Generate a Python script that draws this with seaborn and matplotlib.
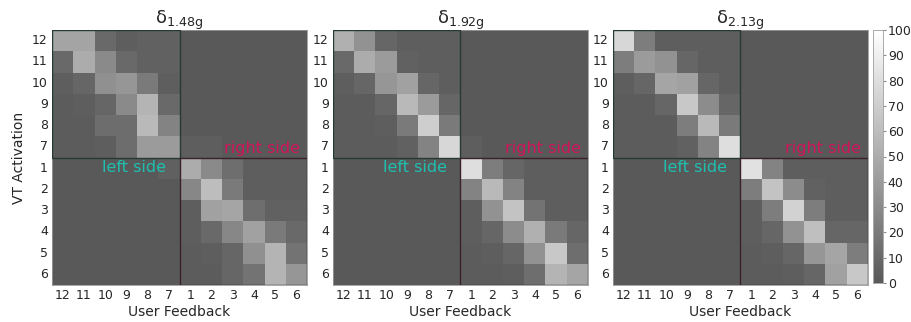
import numpy as np
import pandas as pd
import matplotlib
matplotlib.use("Agg")
import matplotlib.pyplot as plt
from matplotlib.colors import LinearSegmentedColormap
from matplotlib.patches import Rectangle
import seaborn as sns

sns.set_style("white")
plt.rcParams['font.family'] = ['DejaVu Sans']

labels = ["12", "11", "10", "9", "8", "7", "1", "2", "3", "4", "5", "6"]
titles = [r"$\mathregular{\delta_{1.48g}}$", r"$\mathregular{\delta_{1.92g}}$", r"$\mathregular{\delta_{2.13g}}$"]

z6 = [0, 0, 0, 0, 0, 0]
m148 = [
    [45, 45, 10, 3, 5, 5] + z6,
    [10, 50, 30, 10, 5, 5] + z6,
    [3, 8, 33, 37, 20, 3] + z6,
    [2, 3, 8, 30, 55, 10] + z6,
    [2, 2, 12, 12, 58, 25] + z6,
    [2, 2, 3, 12, 40, 40, 3, 3, 0, 0, 0, 0],
    [0, 0, 0, 0, 0, 4, 50, 30, 13, 3, 3, 3],
    z6 + [28, 60, 20, 3, 3, 3],
    z6 + [3, 43, 46, 13, 5, 5],
    z6 + [3, 10, 28, 43, 20, 10],
    z6 + [2, 3, 8, 33, 55, 16],
    z6 + [2, 2, 8, 16, 55, 37],
]
m192 = [
    [52, 34, 8, 3, 3, 3] + z6,
    [10, 50, 40, 5, 3, 3] + z6,
    [3, 8, 37, 43, 8, 3] + z6,
    [2, 2, 8, 58, 40, 8] + z6,
    [2, 2, 3, 20, 70, 20] + z6,
    [2, 2, 2, 5, 25, 76, 3, 0, 0, 0, 0, 0],
    z6 + [80, 22, 8, 3, 3, 3],
    z6 + [25, 58, 25, 3, 3, 3],
    z6 + [3, 34, 64, 16, 3, 3],
    z6 + [3, 8, 31, 52, 20, 8],
    z6 + [2, 3, 8, 34, 67, 13],
    z6 + [2, 2, 3, 13, 55, 46],
]
m213 = [
    [76, 22, 3, 3, 3, 3] + z6,
    [22, 40, 34, 8, 3, 3] + z6,
    [3, 8, 46, 43, 8, 3] + z6,
    [2, 2, 8, 67, 31, 8] + z6,
    [2, 2, 2, 22, 58, 20] + z6,
    [2, 2, 2, 5, 25, 80] + z6,
    z6 + [82, 25, 3, 3, 3, 3],
    z6 + [22, 64, 31, 5, 3, 3],
    z6 + [3, 22, 73, 22, 3, 3],
    z6 + [3, 8, 34, 61, 8, 8],
    z6 + [2, 3, 8, 37, 46, 22],
    z6 + [2, 2, 3, 8, 43, 67],
]
mats = [m148, m192, m213]

cmap = LinearSegmentedColormap.from_list("g", ["#595959", "#ffffff"])

fig = plt.figure(figsize=(9.12, 3.22), dpi=100)
lefts = [52 / 912, 333 / 912, 613 / 912]
W = 255 / 912
B = 1 - 285 / 322
H = 255 / 322
cax = fig.add_axes([873 / 912, B + 2 / 322, 10 / 912, H - 2 / 322])

for i, (m, t, l) in enumerate(zip(mats, titles, lefts)):
    ax = fig.add_axes([l, B, W, H])
    df = pd.DataFrame(m, index=labels, columns=labels)
    sns.heatmap(df, ax=ax, cmap=cmap, vmin=0, vmax=100,
                cbar=(i == 2), cbar_ax=cax if i == 2 else None)
    ax.set_title(t, fontsize=13, pad=4)
    ax.set_xlabel("User Feedback", fontsize=10, labelpad=2)
    if i == 0:
        ax.set_ylabel("VT Activation", fontsize=10, labelpad=4)
    else:
        ax.set_ylabel("")
    ax.set_xticklabels(labels, rotation=0, fontsize=9)
    ax.set_yticklabels(labels, rotation=0, fontsize=9)
    ax.tick_params(axis="both", direction="in", length=2, pad=3, color="#888888",
                   top=True, right=True)
    for s in ax.spines.values():
        s.set_visible(True)
        s.set_color("#999999")
        s.set_linewidth(0.6)
    ax.add_patch(Rectangle((0, 0), 6, 6, fill=False, edgecolor="#253a30", lw=1.0, zorder=5))
    ax.add_patch(Rectangle((6, 6), 6, 6, fill=False, edgecolor="#3a2228", lw=1.0, zorder=5))
    ax.text(3.85, 6.45, "left side", color="#1fbfb0", fontsize=11.5,
            ha="center", va="center")
    ax.text(9.9, 5.6, "right side", color="#d0145a", fontsize=11.5,
            ha="center", va="center")

cax.set_yticks(range(0, 101, 10))
cax.tick_params(labelsize=9, length=2, pad=1.5, color="#888888")
for s in cax.spines.values():
    s.set_visible(True)
    s.set_color("#aaaaaa")
    s.set_linewidth(0.6)

fig.savefig("out.png", dpi=100)
